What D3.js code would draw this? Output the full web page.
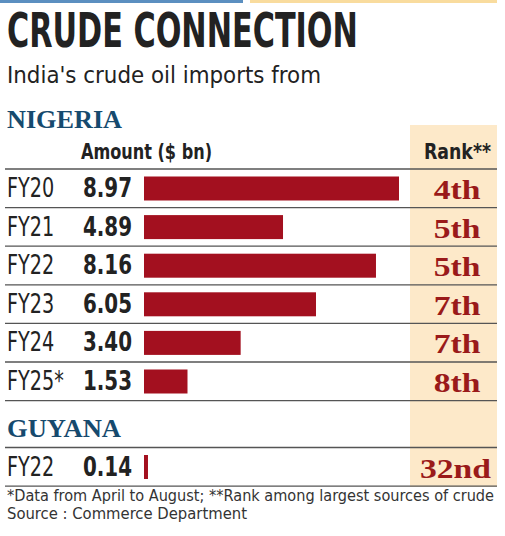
<!DOCTYPE html>
<html>
<head>
<meta charset="utf-8">
<script src="https://cdn.jsdelivr.net/npm/d3@7"></script>
<style>
  body { margin: 0; background: #fff; }
  svg { display: block; }
</style>
</head>
<body>
<div id="vis"></div>
<script>
// frame
const FRAME_WIDTH = 505;
const FRAME_HEIGHT = 536;

// data
const nigeriaYears = ["FY20", "FY21", "FY22", "FY23", "FY24", "FY25*"];
const nigeriaAmounts = [8.97, 4.89, 8.16, 6.05, 3.40, 1.53];
const nigeriaRanks = ["4th", "5th", "5th", "7th", "7th", "8th"];
const guyanaYears = ["FY22"];
const guyanaAmounts = [0.14];
const guyanaRanks = ["32nd"];

const SANS = "'DejaVu Sans Condensed', 'DejaVu Sans', sans-serif";
const SERIF = "'Liberation Serif', 'DejaVu Serif', serif";
const RED = "#a3101f";
const RANK_RED = "#9a1a1a";
const NAVY = "#164a6e";
const LINE = "#555";

// squeeze or stretch a text to k times its natural width
function fitWidth(sel, k) {
  sel.each(function () {
    const w = this.getComputedTextLength();
    d3.select(this)
      .attr("textLength", w * k)
      .attr("lengthAdjust", "spacingAndGlyphs");
  });
}

const svg = d3.select("#vis")
  .append("svg")
    .attr("width", FRAME_WIDTH)
    .attr("height", FRAME_HEIGHT);

// top colour strips
svg.append("rect").attr("x", 0).attr("y", 0).attr("width", 243).attr("height", 3).attr("fill", "#5b8fc0");
svg.append("rect").attr("x", 250).attr("y", 0).attr("width", 247).attr("height", 3).attr("fill", "#f9dc9e");

// rank column highlight
svg.append("rect")
  .attr("x", 410).attr("y", 125)
  .attr("width", 87).attr("height", 362)
  .attr("fill", "#fde9c9");

// title, squeezed horizontally to the condensed look
const title = svg.append("text")
  .attr("font-family", SANS).attr("font-weight", "bold")
  .attr("font-size", 48).attr("fill", "#222")
  .text("CRUDE CONNECTION");
const titleW = title.node().getComputedTextLength();
title.attr("transform", "translate(7,47) scale(" + (351 / titleW) + ",1)");

svg.append("text")
  .attr("x", 7).attr("y", 83)
  .attr("font-family", SANS)
  .attr("font-size", 23).attr("fill", "#222")
  .attr("textLength", 314).attr("lengthAdjust", "spacingAndGlyphs")
  .text("India's crude oil imports from");

// scale shared by both groups
const X_SCALE = d3.scaleLinear()
  .domain([0, 8.97])
  .range([144, 399]);

const ROW_H = 38.6;

function section(title, titleY, titleW, topLine, years, amounts, ranks) {
  svg.append("text")
    .attr("x", 7).attr("y", titleY)
    .attr("font-family", SERIF).attr("font-weight", "bold")
    .attr("font-size", 26).attr("fill", NAVY)
    .attr("textLength", titleW).attr("lengthAdjust", "spacingAndGlyphs")
    .text(title);

  const Y_SCALE = d3.scaleBand()
    .domain(years)
    .range([topLine, topLine + ROW_H * years.length]);

  // row lines
  svg.append("g").selectAll("line")
    .data(d3.range(years.length + 1))
    .enter()
    .append("line")
      .attr("x1", 5).attr("x2", 497)
      .attr("y1", (i) => topLine + ROW_H * i)
      .attr("y2", (i) => topLine + ROW_H * i)
      .attr("stroke", LINE).attr("stroke-width", 1.3);

  const rows = svg.append("g").selectAll("g")
    .data(years)
    .enter()
    .append("g");

  rows.append("rect")
    .attr("x", X_SCALE(0))
    .attr("y", (d) => Y_SCALE(d) + 7.5)
    .attr("width", (d, i) => X_SCALE(amounts[i]) - X_SCALE(0))
    .attr("height", 24)
    .attr("fill", RED);

  rows.append("text")
    .attr("x", 7)
    .attr("y", (d) => Y_SCALE(d) + 28)
    .attr("font-family", SANS)
    .attr("font-size", 26).attr("fill", "#222")
    .text((d) => d)
    .call(fitWidth, 0.82);

  rows.append("text")
    .attr("x", 132)
    .attr("y", (d) => Y_SCALE(d) + 28)
    .attr("text-anchor", "end")
    .attr("font-family", SANS).attr("font-weight", "bold")
    .attr("font-size", 26).attr("fill", "#222")
    .text((d, i) => amounts[i].toFixed(2))
    .call(fitWidth, 0.85);

  rows.append("text")
    .attr("x", (d, i) => ranks[i].length > 3 ? 491 : 457)
    .attr("y", (d) => Y_SCALE(d) + 30)
    .attr("text-anchor", (d, i) => ranks[i].length > 3 ? "end" : "middle")
    .attr("font-family", SERIF).attr("font-weight", "bold")
    .attr("font-size", 28).attr("fill", RANK_RED)
    .text((d, i) => ranks[i])
    .call(fitWidth, 1.2);
}

section("NIGERIA", 128, 115, 169, nigeriaYears, nigeriaAmounts, nigeriaRanks);

// column headers
svg.append("text")
  .attr("x", 81).attr("y", 159)
  .attr("font-family", SANS).attr("font-weight", "bold")
  .attr("font-size", 22).attr("fill", "#222")
  .attr("textLength", 131).attr("lengthAdjust", "spacingAndGlyphs")
  .text("Amount ($ bn)");
svg.append("text")
  .attr("x", 424).attr("y", 159)
  .attr("font-family", SANS).attr("font-weight", "bold")
  .attr("font-size", 22).attr("fill", "#222")
  .attr("textLength", 67).attr("lengthAdjust", "spacingAndGlyphs")
  .text("Rank**");

section("GUYANA", 437, 114, 447.5, guyanaYears, guyanaAmounts, guyanaRanks);

// footnotes
svg.append("text")
  .attr("x", 7).attr("y", 501)
  .attr("font-family", SANS)
  .attr("font-size", 16).attr("fill", "#333")
  .attr("textLength", 487).attr("lengthAdjust", "spacingAndGlyphs")
  .text("*Data from April to August; **Rank among largest sources of crude");
svg.append("text")
  .attr("x", 7).attr("y", 519)
  .attr("font-family", SANS)
  .attr("font-size", 16).attr("fill", "#333")
  .attr("textLength", 240).attr("lengthAdjust", "spacingAndGlyphs")
  .text("Source : Commerce Department");
</script>
</body>
</html>
